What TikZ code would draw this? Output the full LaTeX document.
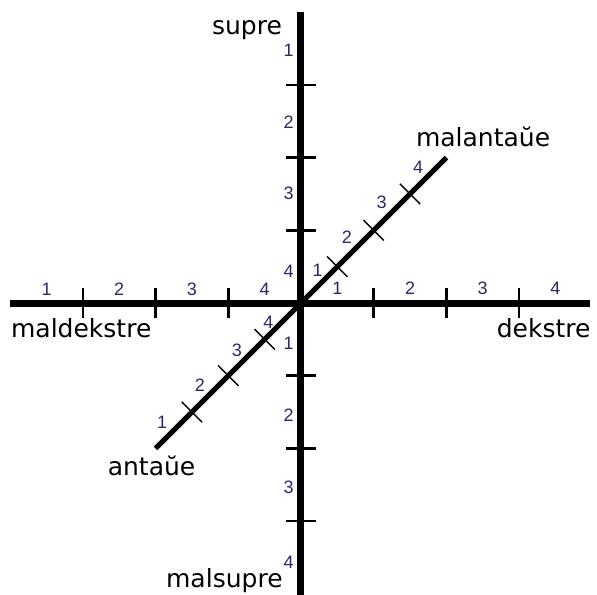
\documentclass[tikz,border=0pt]{standalone}
\usepackage{fontspec}
\setmainfont{DejaVu Sans}
\newfontfamily\digitfont{Liberation Sans}
\definecolor{numblue}{RGB}{40,40,105}

\begin{document}
\begin{tikzpicture}[x=72.7pt, y=72.7pt,
    axis/.style={line width=7pt, black},
    diag/.style={line width=5pt, black},
    axistick/.style={line width=2.5pt, black},
    diagtick/.style={line width=1.4pt, black},
    dirlabel/.style={font=\fontsize{25}{30}\selectfont, inner sep=0pt},
    num/.style={font=\digitfont\fontsize{18}{20}\selectfont, text=numblue, inner sep=0pt}]

    \useasboundingbox (-4.14,-4.003) rectangle (4.072,4.168);

    % ends of the three axes
    \coordinate (O) at (0,0);
    \coordinate (leftend) at (-4,0);
    \coordinate (rightend) at (3.975,0);
    \coordinate (topend) at (0,4);
    \coordinate (bottomend) at (0,-4.05);
    \coordinate (backend) at (-2,-2);
    \coordinate (frontend) at (2,2);

    \draw[axis] (leftend) -- (rightend);
    \draw[axis] (bottomend) -- (topend);
    \draw[diag] (backend) -- (frontend);

    % ticks
    \foreach \t in {-3,-2,-1,1,2,3} {
        \draw[axistick] (\t,-0.2) -- (\t,0.2);
        \draw[axistick] (-0.2,\t) -- (0.2,\t);
    }
    \foreach \t in {-1.5,-1,-0.5,0.5,1,1.5}
        \draw[diagtick] ({\t-0.14},{\t+0.14}) -- ({\t+0.14},{\t-0.14});

    % numbers
    \foreach \x/\n in {-3.5/1,-2.5/2,-1.5/3,-0.5/4}
        \node[num] (hl\n) at (\x,0.19) {\n};
    \foreach \x/\n in {0.5/1,1.5/2,2.5/3,3.5/4}
        \node[num] (hr\n) at (\x,0.2) {\n};
    \foreach \y/\n in {3.48/1,2.48/2,1.51/3,0.43/4}
        \node[num] (vt\n) at (-0.17,\y) {\n};
    \foreach \y/\n in {-0.55/1,-1.54/2,-2.53/3,-3.56/4}
        \node[num] (vb\n) at (-0.17,\y) {\n};
    \foreach \x/\y/\n in {0.23/0.45/1,0.63/0.91/2,1.11/1.38/3,1.61/1.86/4}
        \node[num] (df\n) at (\x,\y) {\n};
    \foreach \x/\y/\n in {-1.91/-1.64/1,-1.39/-1.13/2,-0.88/-0.65/3,-0.45/-0.26/4}
        \node[num] (db\n) at (\x,\y) {\n};

    % direction names
    \node[dirlabel, anchor=base east] (supre) at (-0.26,3.69) {supre};
    \node[dirlabel, anchor=base east] (malsupre) at (-0.25,-3.92) {malsupre};
    \node[dirlabel, anchor=base west] (maldekstre) at (-3.99,-0.48) {maldekstre};
    \node[dirlabel, anchor=base east] (dekstre) at (3.985,-0.48) {dekstre};
    \node[dirlabel, anchor=base west] (malantaue) at (1.58,2.15) {malantaŭe};
    \node[dirlabel, anchor=base west] (antaue) at (-2.66,-2.37) {antaŭe};

\end{tikzpicture}
\end{document}
